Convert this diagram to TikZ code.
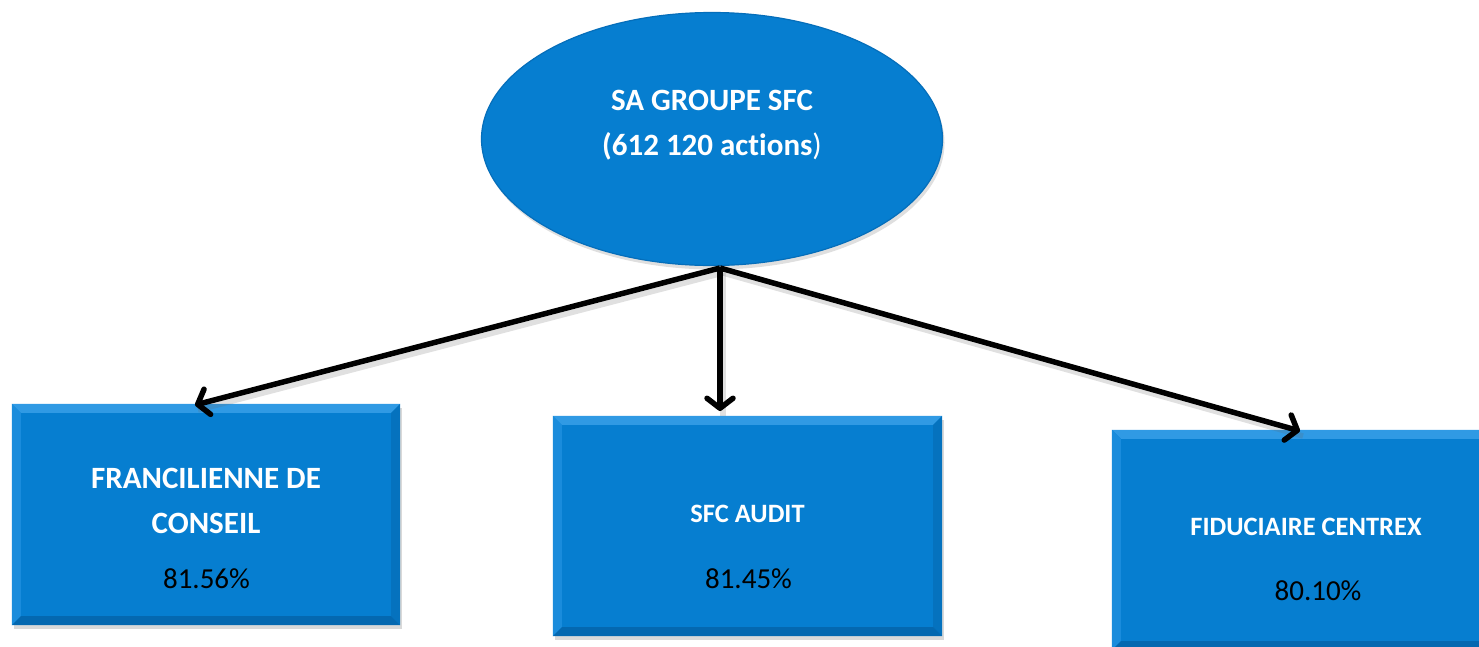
\documentclass[tikz,border=0pt]{standalone}
\usepackage{fontspec}
\setmainfont{Carlito}[Ligatures={NoCommon}]
\usetikzlibrary{arrows.meta,shapes.geometric,shadows,calc}
\definecolor{boxblue}{RGB}{6,126,208}
\definecolor{bevtop}{RGB}{48,154,228}
\definecolor{bevleft}{RGB}{26,140,220}
\definecolor{bevright}{RGB}{5,114,190}
\definecolor{bevbot}{RGB}{4,104,176}
\definecolor{ellrim}{RGB}{5,110,186}
\newcommand\bevelbox[1]{%
  \fill[bevtop] (#1.north west) -- (#1.north east) -- ($(#1.north east)+(-9,9)$) -- ($(#1.north west)+(9,9)$) -- cycle;
  \fill[bevleft] (#1.north west) -- ($(#1.north west)+(9,9)$) -- ($(#1.south west)+(9,-9)$) -- (#1.south west) -- cycle;
  \fill[bevright] (#1.north east) -- ($(#1.north east)+(-9,9)$) -- ($(#1.south east)+(-9,-9)$) -- (#1.south east) -- cycle;
  \fill[bevbot] (#1.south west) -- ($(#1.south west)+(9,-9)$) -- ($(#1.south east)+(-9,-9)$) -- (#1.south east) -- cycle;
}
\begin{document}
\begin{tikzpicture}[x=1pt,y=-1pt,
  boxstyle/.style={rectangle, fill=boxblue, inner sep=0pt,
    drop shadow={opacity=0.3, shadow xshift=2pt, shadow yshift=-4pt}},
  ellstyle/.style={ellipse, fill=boxblue, draw=ellrim, line width=1.2pt, inner sep=0pt,
    drop shadow={opacity=0.25, shadow xshift=2pt, shadow yshift=-4pt}},
  bigtitle/.style={anchor=base, inner sep=0pt, text=white, font=\fontsize{31}{36}\selectfont\bfseries},
  midtitle/.style={anchor=base, inner sep=0pt, text=white, font=\fontsize{26.5}{31}\selectfont\bfseries},
  pct/.style={anchor=base, inner sep=0pt, text=black, font=\fontsize{29}{34}\selectfont},
  link/.style={line width=5.5pt, black, -{Straight Barb[length=10pt,width=26pt,round]}},
  linkshadow/.style={line width=5.5pt, black!60, opacity=0.2}
]
\useasboundingbox (0,0) rectangle (1479,646);
\clip (0,0) rectangle (1479,646);

% top ellipse
\node[ellstyle, minimum width=461pt, minimum height=253pt] (top) at (712,139) {};
\node[bigtitle] (toptxt1) at (712,110) {SA GROUPE SFC};
\node[bigtitle] (toptxt2) at (712,155) {(612 120 actions\textmd{)}};

% boxes
\node[boxstyle, minimum width=388pt, minimum height=221pt] (b1) at (206,514.5) {};
\node[boxstyle, minimum width=389pt, minimum height=220pt] (b2) at (747.5,526) {};
\node[boxstyle, minimum width=389pt, minimum height=220pt] (b3) at (1306.5,540) {};
\bevelbox{b1}
\bevelbox{b2}
\bevelbox{b3}

% texts
\node[bigtitle] (b1t1) at (206,488) {FRANCILIENNE DE};
\node[bigtitle] (b1t2) at (206,533) {CONSEIL};
\node[pct] (b1p) at (206.5,588) {81.56\%};
\node[midtitle] (b2t1) at (747.5,522) {SFC AUDIT};
\node[pct] (b2p) at (748.5,588) {81.45\%};
\node[midtitle] (b3t1) at (1306,535) {FIDUCIAIRE CENTREX};
\node[pct] (b3p) at (1318,600) {80.10\%};

% connectors
\coordinate (apex) at (720,268);
\coordinate (e1) at (195,405);
\coordinate (e2) at (720,411);
\coordinate (e3) at (1300,431);
\draw[linkshadow] ($(apex)+(3,5)$) -- ($(e1)+(3,5)$);
\draw[linkshadow] ($(apex)+(3,5)$) -- ($(e2)+(3,5)$);
\draw[linkshadow] ($(apex)+(3,5)$) -- ($(e3)+(3,5)$);
\draw[link] (apex) -- (e1);
\draw[link] (apex) -- (e2);
\draw[link] (apex) -- (e3);
\end{tikzpicture}
\end{document}
